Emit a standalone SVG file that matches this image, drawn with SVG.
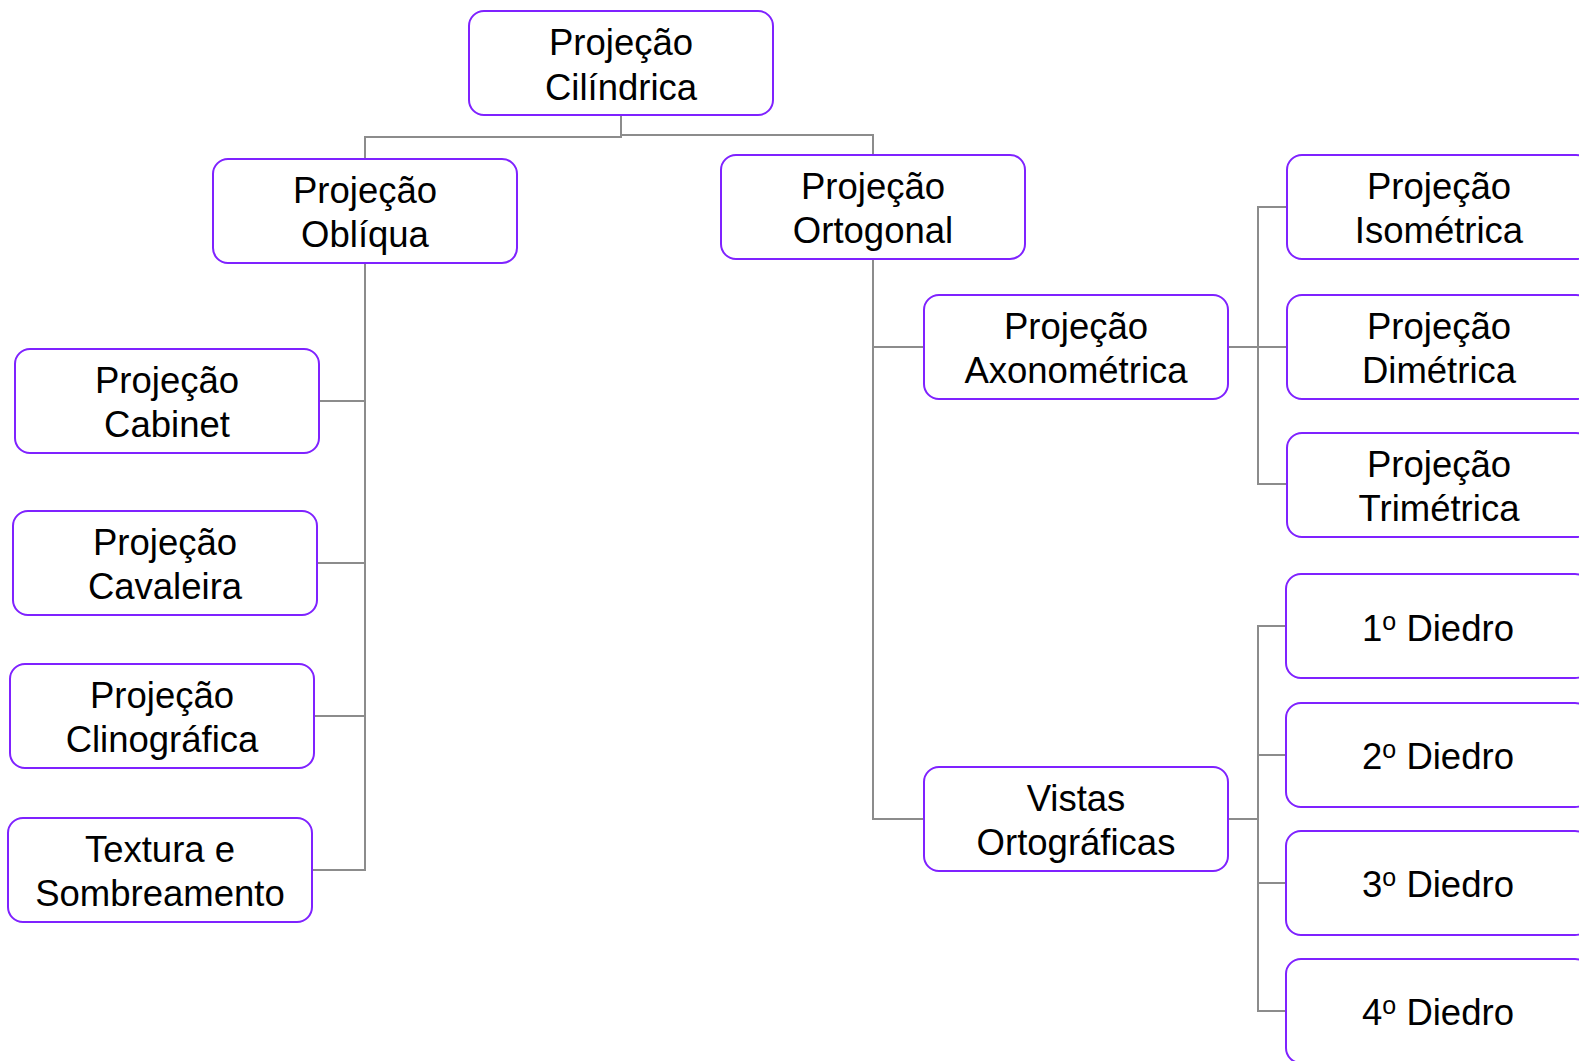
<svg xmlns="http://www.w3.org/2000/svg" width="1579" height="1061" viewBox="0 0 1579 1061">
<style>
.box{fill:#ffffff;stroke:#7f22ff;stroke-width:2}
.lbl{font-family:"Liberation Sans",Arial,sans-serif;font-size:36.5px;fill:#000000;text-anchor:middle}
.sup{font-size:25px}
.con{fill:none;stroke:#8c8c8c;stroke-width:2}
</style>
<rect width="1579" height="1061" fill="#ffffff"/>
<g id="connectors">
<path class="con" d="M621,116 V137 H365 V159"/>
<path class="con" d="M621,116 V135 H873 V155"/>
<path class="con" d="M365,263 V401 H319"/>
<path class="con" d="M365,263 V563 H317"/>
<path class="con" d="M365,263 V716 H314"/>
<path class="con" d="M365,263 V870 H312"/>
<path class="con" d="M873,259 V347 H924"/>
<path class="con" d="M873,259 V819 H924"/>
<path class="con" d="M1228,347 H1258 V207 H1287"/>
<path class="con" d="M1228,347 H1287"/>
<path class="con" d="M1258,347 V484 H1287"/>
<path class="con" d="M1228,819 H1258 V626 H1286"/>
<path class="con" d="M1258,819 V755 H1286"/>
<path class="con" d="M1258,819 V883 H1286"/>
<path class="con" d="M1258,819 V1011 H1286"/>
</g>
<g id="n-root"><rect class="box" x="469" y="11" width="304" height="104" rx="15"/><text class="lbl" x="621" y="55">Projeção</text><text class="lbl" x="621" y="100">Cilíndrica</text></g>
<g id="n-obliqua"><rect class="box" x="213" y="159" width="304" height="104" rx="15"/><text class="lbl" x="365" y="203">Projeção</text><text class="lbl" x="365" y="247">Oblíqua</text></g>
<g id="n-ortogonal"><rect class="box" x="721" y="155" width="304" height="104" rx="15"/><text class="lbl" x="873" y="199">Projeção</text><text class="lbl" x="873" y="243">Ortogonal</text></g>
<g id="n-cabinet"><rect class="box" x="15" y="349" width="304" height="104" rx="15"/><text class="lbl" x="167" y="393">Projeção</text><text class="lbl" x="167" y="437">Cabinet</text></g>
<g id="n-cavaleira"><rect class="box" x="13" y="511" width="304" height="104" rx="15"/><text class="lbl" x="165" y="555">Projeção</text><text class="lbl" x="165" y="599">Cavaleira</text></g>
<g id="n-clinografica"><rect class="box" x="10" y="664" width="304" height="104" rx="15"/><text class="lbl" x="162" y="708">Projeção</text><text class="lbl" x="162" y="752">Clinográfica</text></g>
<g id="n-textura"><rect class="box" x="8" y="818" width="304" height="104" rx="15"/><text class="lbl" x="160" y="862">Textura e</text><text class="lbl" x="160" y="906">Sombreamento</text></g>
<g id="n-axonometrica"><rect class="box" x="924" y="295" width="304" height="104" rx="15"/><text class="lbl" x="1076" y="339">Projeção</text><text class="lbl" x="1076" y="383">Axonométrica</text></g>
<g id="n-vistas"><rect class="box" x="924" y="767" width="304" height="104" rx="15"/><text class="lbl" x="1076" y="811">Vistas</text><text class="lbl" x="1076" y="855">Ortográficas</text></g>
<g id="n-isometrica"><rect class="box" x="1287" y="155" width="304" height="104" rx="15"/><text class="lbl" x="1439" y="199">Projeção</text><text class="lbl" x="1439" y="243">Isométrica</text></g>
<g id="n-dimetrica"><rect class="box" x="1287" y="295" width="304" height="104" rx="15"/><text class="lbl" x="1439" y="339">Projeção</text><text class="lbl" x="1439" y="383">Dimétrica</text></g>
<g id="n-trimetrica"><rect class="box" x="1287" y="433" width="304" height="104" rx="15"/><text class="lbl" x="1439" y="477">Projeção</text><text class="lbl" x="1439" y="521">Trimétrica</text></g>
<g id="n-d1"><rect class="box" x="1286" y="574" width="304" height="104" rx="15"/><text class="lbl" x="1438" y="641">1<tspan class="sup" dy="-11">o</tspan><tspan dy="11"> Diedro</tspan></text></g>
<g id="n-d2"><rect class="box" x="1286" y="703" width="304" height="104" rx="15"/><text class="lbl" x="1438" y="769">2<tspan class="sup" dy="-11">o</tspan><tspan dy="11"> Diedro</tspan></text></g>
<g id="n-d3"><rect class="box" x="1286" y="831" width="304" height="104" rx="15"/><text class="lbl" x="1438" y="897">3<tspan class="sup" dy="-11">o</tspan><tspan dy="11"> Diedro</tspan></text></g>
<g id="n-d4"><rect class="box" x="1286" y="959" width="304" height="104" rx="15"/><text class="lbl" x="1438" y="1025">4<tspan class="sup" dy="-11">o</tspan><tspan dy="11"> Diedro</tspan></text></g>
</svg>
